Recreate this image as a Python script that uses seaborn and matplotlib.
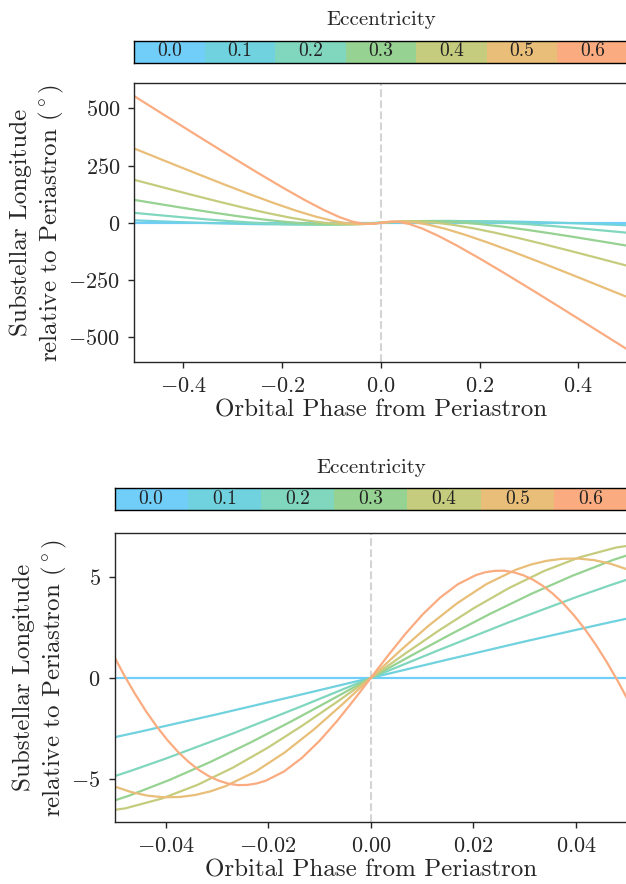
import matplotlib
matplotlib.use("Agg")
import matplotlib.pyplot as plt
from matplotlib.colors import ListedColormap
import numpy as np
import pandas as pd
import seaborn as sns

sns.set_theme(style="ticks")
plt.rcParams.update({
    "font.family": "serif",
    "font.serif": ["cmr10"],
    "mathtext.fontset": "cm",
    "axes.formatter.use_mathtext": True,
    "axes.linewidth": 1.0,
    "xtick.major.size": 4,
    "ytick.major.size": 4,
})

# eccentricity levels and their colours
ecc_labels = ["0.0", "0.1", "0.2", "0.3", "0.4", "0.5", "0.6"]
ecc_values = [0.0, 0.1, 0.2, 0.3, 0.4, 0.5, 0.6]
ecc_colors = ["#71cef8", "#70d2de", "#80d7be", "#96d291", "#c6cc7e", "#e8be78", "#faac80"]

# ---- full orbit (top panel) ----
full_phase_e00 = [-0.5, 0.5]
full_lon_e00 = [0.0, 0.0]

full_phase_e01 = [-0.5, -0.45421, -0.40871, -0.36375, -0.31955, -0.27629, -0.23408, -0.19296, -0.15288,
                  -0.11375, -0.07538, -0.03755, 0.0, 0.03755, 0.07538, 0.11375, 0.15288, 0.19296,
                  0.23408, 0.27629, 0.31955, 0.36375, 0.40871, 0.45421, 0.5]
full_lon_e01 = [10.81, 6.92, 3.22, -0.11, -2.90, -5.03, -6.41, -6.98, -6.76, -5.80, -4.24, -2.23, 0.0,
                2.23, 4.24, 5.80, 6.76, 6.98, 6.41, 5.03, 2.90, 0.11, -3.22, -6.92, -10.81]

full_phase_e02 = [-0.5, -0.45010, -0.40075, -0.35249, -0.30577, -0.26092, -0.21817, -0.17759, -0.13910,
                  -0.10249, -0.06742, -0.03343, 0.0, 0.03343, 0.06742, 0.10249, 0.13910, 0.17759,
                  0.21817, 0.26092, 0.30577, 0.35249, 0.40075, 0.45010, 0.5]
full_lon_e02 = [43.54, 33.50, 23.85, 14.97, 7.18, 0.79, -4.00, -7.05, -8.34, -7.98, -6.19, -3.37, 0.0,
                3.37, 6.19, 7.98, 8.34, 7.05, 4.00, -0.79, -7.18, -14.97, -23.85, -33.50, -43.54]

full_phase_e03 = [-0.5, -0.44598, -0.39279, -0.34124, -0.29198, -0.24555, -0.20225, -0.16221, -0.12532,
                  -0.09124, -0.05946, -0.02931, 0.0, 0.02931, 0.05946, 0.09124, 0.12532, 0.16221,
                  0.20225, 0.24555, 0.29198, 0.34124, 0.39279, 0.44598, 0.5]
full_lon_e03 = [100.28, 81.04, 62.43, 45.10, 29.60, 16.41, 5.92, -1.63, -6.14, -7.74, -6.79, -3.91, 0.0,
                3.91, 6.79, 7.74, 6.14, 1.63, -5.92, -16.41, -29.60, -45.10, -62.43, -81.04, -100.28]

full_phase_e04 = [-0.5, -0.44186, -0.38484, -0.32998, -0.27820, -0.23017, -0.18634, -0.14684, -0.11153,
                  -0.07998, -0.05150, -0.02519, 0.0, 0.02519, 0.05150, 0.07998, 0.11153, 0.14684,
                  0.18634, 0.23017, 0.27820, 0.32998, 0.38484, 0.44186, 0.5]
full_lon_e04 = [188.11, 155.16, 123.22, 93.29, 66.23, 42.80, 23.61, 9.05, -0.71, -5.76, -6.60, -4.20, 0.0,
                4.20, 6.60, 5.76, 0.71, -9.05, -23.61, -42.80, -66.23, -93.29, -123.22, -155.16, -188.11]

full_phase_e05 = [-0.5, -0.43774, -0.37688, -0.31873, -0.26442, -0.21480, -0.17042, -0.13147, -0.09775,
                  -0.06873, -0.04355, -0.02107, 0.0, 0.02107, 0.04355, 0.06873, 0.09775, 0.13147,
                  0.17042, 0.21480, 0.26442, 0.31873, 0.37688, 0.43774, 0.5]
full_lon_e05 = [324.97, 270.78, 218.21, 168.79, 123.91, 84.72, 52.12, 26.69, 8.72, -1.90, -5.82, -4.41, 0.0,
                4.41, 5.82, 1.90, -8.72, -26.69, -52.12, -84.72, -123.91, -168.79, -218.21, -270.78, -324.97]

full_phase_e06 = [-0.5, -0.43362, -0.36892, -0.30748, -0.25063, -0.19943, -0.15451, -0.11609, -0.08397,
                  -0.05748, -0.03559, -0.01695, 0.0, 0.01695, 0.03559, 0.05748, 0.08397, 0.11609,
                  0.15451, 0.19943, 0.25063, 0.30748, 0.36892, 0.43362, 0.5]
full_lon_e06 = [553.91, 464.00, 376.77, 294.72, 220.09, 154.70, 99.92, 56.58, 25.04, 5.09, -4.14, -4.62, 0.0,
                4.62, 4.14, -5.09, -25.04, -56.58, -99.92, -154.70, -220.09, -294.72, -376.77, -464.00, -553.91]

# ---- close to periastron (bottom panel) ----
near_phase_e00 = [-0.06, 0.06]
near_lon_e00 = [0.0, 0.0]

near_phase_e01 = [-0.05263, -0.04508, -0.03002, -0.01500, 0.0, 0.01500, 0.03002, 0.04508, 0.05263]
near_lon_e01 = [-3.075, -2.659, -1.798, -0.906, 0.0, 0.906, 1.798, 2.659, 3.075]

near_phase_e02 = [-0.05372, -0.04693, -0.04016, -0.02672, -0.01334, 0.0,
                  0.01334, 0.02672, 0.04016, 0.04693, 0.05372]
near_lon_e02 = [-5.166, -4.598, -3.999, -2.726, -1.381, 0.0, 1.381, 2.726, 3.999, 4.598, 5.166]

near_phase_e03 = [-0.05536, -0.04725, -0.03923, -0.03128, -0.02341, -0.01558, -0.00778, 0.0,
                  0.00778, 0.01558, 0.02341, 0.03128, 0.03923, 0.04725, 0.05536]
near_lon_e03 = [-6.499, -5.824, -5.035, -4.148, -3.182, -2.155, -1.088, 0.0,
                1.088, 2.155, 3.182, 4.148, 5.035, 5.824, 6.499]

near_phase_e04 = [-0.05515, -0.04789, -0.04077, -0.03378, -0.02690, -0.02010, -0.01336, -0.00667, 0.0,
                  0.00667, 0.01336, 0.02010, 0.02690, 0.03378, 0.04077, 0.04789, 0.05515]
near_lon_e04 = [-6.703, -6.441, -5.958, -5.278, -4.431, -3.446, -2.356, -1.196, 0.0,
                1.196, 2.356, 3.446, 4.431, 5.278, 5.958, 6.441, 6.703]

near_phase_e05 = [-0.05323, -0.04995, -0.04672, -0.04354, -0.04042, -0.03734, -0.03430, -0.03130, -0.02834,
                  -0.02251, -0.01679, -0.01115, -0.00556, 0.0,
                  0.00556, 0.01115, 0.01679, 0.02251, 0.02834, 0.03130, 0.03430, 0.03734, 0.04042,
                  0.04354, 0.04672, 0.04995, 0.05323]
near_lon_e05 = [-4.986, -5.365, -5.640, -5.815, -5.894, -5.882, -5.783, -5.603, -5.346,
                -4.629, -3.680, -2.554, -1.307, 0.0,
                1.307, 2.554, 3.680, 4.629, 5.346, 5.603, 5.783, 5.882, 5.894,
                5.815, 5.640, 5.365, 4.986]

near_phase_e06 = [-0.05277, -0.05048, -0.04824, -0.04603, -0.04387, -0.04175, -0.03966, -0.03761, -0.03559,
                  -0.03360, -0.03165, -0.02972, -0.02783, -0.02596, -0.02411, -0.02229, -0.02049,
                  -0.01695, -0.01348, -0.01006, -0.00668, -0.00334, 0.0,
                  0.00334, 0.00668, 0.01006, 0.01348, 0.01695,
                  0.02049, 0.02229, 0.02411, 0.02596, 0.02783, 0.02972, 0.03165, 0.03360,
                  0.03559, 0.03761, 0.03966, 0.04175, 0.04387, 0.04603, 0.04824, 0.05048, 0.05277]
near_lon_e06 = [2.427, 1.256, 0.189, -0.776, -1.641, -2.407, -3.077, -3.654, -4.139,
                -4.535, -4.845, -5.071, -5.218, -5.293, -5.286, -5.214, -5.076,
                -4.622, -3.957, -3.122, -2.155, -1.100, 0.0,
                1.100, 2.155, 3.122, 3.957, 4.622,
                5.076, 5.214, 5.286, 5.293, 5.218, 5.071, 4.845, 4.535,
                4.139, 3.654, 3.077, 2.407, 1.641, 0.776, -0.189, -1.256, -2.427]

full_series = [(full_phase_e00, full_lon_e00), (full_phase_e01, full_lon_e01), (full_phase_e02, full_lon_e02),
               (full_phase_e03, full_lon_e03), (full_phase_e04, full_lon_e04), (full_phase_e05, full_lon_e05),
               (full_phase_e06, full_lon_e06)]
near_series = [(near_phase_e00, near_lon_e00), (near_phase_e01, near_lon_e01), (near_phase_e02, near_lon_e02),
               (near_phase_e03, near_lon_e03), (near_phase_e04, near_lon_e04), (near_phase_e05, near_lon_e05),
               (near_phase_e06, near_lon_e06)]


def to_frame(series):
    parts = []
    for lab, (ph, lon) in zip(ecc_labels, series):
        parts.append(pd.DataFrame({"phase": ph, "lon": lon, "ecc": lab}))
    return pd.concat(parts, ignore_index=True)


df_full = to_frame(full_series)
df_near = to_frame(near_series)

W, H = 626, 884
fig = plt.figure(figsize=(W / 100, H / 100), dpi=100)


def px_axes(x0, y0, x1, y1):
    # pixel box (top-left origin) -> figure fraction
    return fig.add_axes([x0 / W, 1 - y1 / H, (x1 - x0) / W, (y1 - y0) / H])


cmap = ListedColormap(ecc_colors)
ylabel = "Substellar Longitude\nrelative to Periastron ($^\\circ$)"


def draw_bar(cax):
    sns.heatmap(
        np.array([ecc_values]),
        cmap=cmap,
        annot=np.array([ecc_labels]),
        fmt="",
        annot_kws={"fontsize": 14, "color": "#222222"},
        cbar=False,
        xticklabels=False,
        yticklabels=False,
        ax=cax,
    )
    for sp in cax.spines.values():
        sp.set_visible(True)
        sp.set_color("black")
        sp.set_linewidth(1.0)
    cax.set_title("Eccentricity", fontsize=15, pad=11)


def draw_panel(ax, df, xlim, ylim, xticks, yticks):
    ax.axvline(0, color="#d4d4d4", ls="--", lw=1.5, zorder=0)
    sns.lineplot(
        data=df, x="phase", y="lon", hue="ecc", hue_order=ecc_labels,
        palette=ecc_colors, estimator=None, sort=False, legend=False,
        linewidth=1.6, ax=ax,
    )
    ax.set_xlim(*xlim)
    ax.set_ylim(*ylim)
    ax.set_xticks(xticks)
    ax.set_yticks(yticks)
    ax.tick_params(labelsize=16, direction="out", length=4, width=1.0, pad=6)
    ax.set_xlabel("Orbital Phase from Periastron", fontsize=18, labelpad=3)
    ax.set_ylabel(ylabel, fontsize=18, labelpad=2)


# top panel
cax1 = px_axes(134, 40.5, 627.6, 62.5)
draw_bar(cax1)
ax1 = px_axes(134, 83.3, 627.6, 362.3)
draw_panel(ax1, df_full, (-0.5, 0.5), (-609.3, 609.3),
           [-0.4, -0.2, 0.0, 0.2, 0.4], [-500, -250, 0, 250, 500])

# bottom panel
cax2 = px_axes(114.5, 488.5, 627.2, 510.5)
draw_bar(cax2)
ax2 = px_axes(114.5, 533.3, 627.2, 822.3)
draw_panel(ax2, df_near, (-0.05, 0.05), (-7.13, 7.14),
           [-0.04, -0.02, 0.0, 0.02, 0.04], [-5, 0, 5])

fig.savefig("out.png", dpi=100)
